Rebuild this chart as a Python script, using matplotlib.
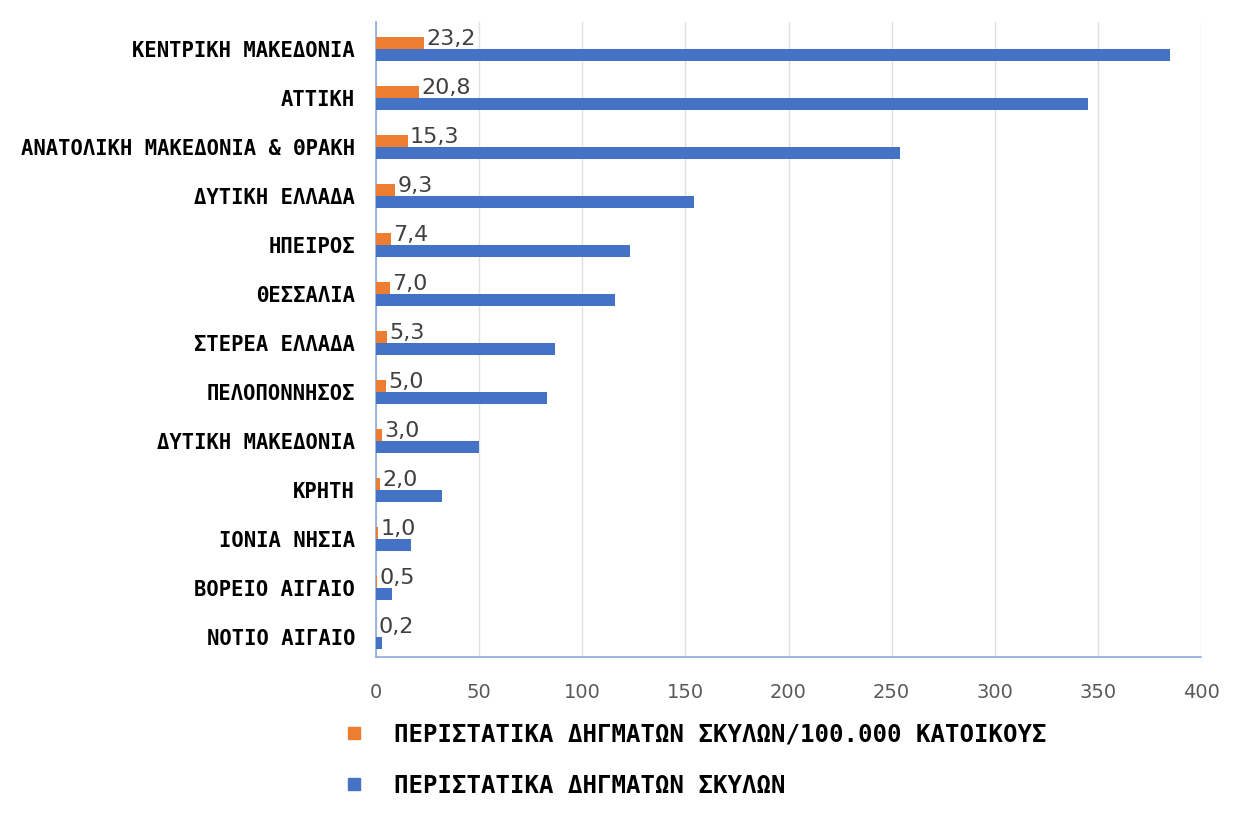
import matplotlib.pyplot as plt
from matplotlib.lines import Line2D
import numpy as np

regions = ['ΚΕΝΤΡΙΚΗ ΜΑΚΕΔΟΝΙΑ', 'ΑΤΤΙΚΗ', 'ΑΝΑΤΟΛΙΚΗ ΜΑΚΕΔΟΝΙΑ & ΘΡΑΚΗ', 'ΔΥΤΙΚΗ ΕΛΛΑΔΑ',
           'ΗΠΕΙΡΟΣ', 'ΘΕΣΣΑΛΙΑ', 'ΣΤΕΡΕΑ ΕΛΛΑΔΑ', 'ΠΕΛΟΠΟΝΝΗΣΟΣ', 'ΔΥΤΙΚΗ ΜΑΚΕΔΟΝΙΑ',
           'ΚΡΗΤΗ', 'ΙΟΝΙΑ ΝΗΣΙΑ', 'ΒΟΡΕΙΟ ΑΙΓΑΙΟ', 'ΝΟΤΙΟ ΑΙΓΑΙΟ']
rate = [23.2, 20.8, 15.3, 9.3, 7.4, 7.0, 5.3, 5.0, 3.0, 2.0, 1.0, 0.5, 0.2]
cases = [385, 345, 254, 154, 123, 116, 87, 83, 50, 32, 17, 8, 3]
xticks = [0, 50, 100, 150, 200, 250, 300, 350, 400]

name_rate = 'ΠΕΡΙΣΤΑΤΙΚΑ ΔΗΓΜΑΤΩΝ ΣΚΥΛΩΝ/100.000 ΚΑΤΟΙΚΟΥΣ'
name_cases = 'ΠΕΡΙΣΤΑΤΙΚΑ ΔΗΓΜΑΤΩΝ ΣΚΥΛΩΝ'

orange = '#ED7D31'
blue = '#4472C4'
mono = ['DejaVu Sans Mono']

fig = plt.figure(figsize=(12.55, 8.21), dpi=100)
ax = fig.add_axes([0.2996, 0.1998, 0.6574, 0.7734])

y = np.arange(len(regions))
h = 0.25
ax.barh(y - h / 2, rate, height=h, color=orange, zorder=3)
ax.barh(y + h / 2, cases, height=h, color=blue, zorder=3)

# ετικέτες τιμών
for yy, v in zip(y, rate):
    ax.annotate(('%.1f' % v).replace('.', ','), (v, yy - h / 2), xytext=(1.5, 3),
                textcoords='offset points', ha='left', va='center',
                fontsize=16, color='#404040')

ax.set_xlim(0, 400)
ax.set_ylim(12.41, -0.55)
ax.set_xticks(xticks)
ax.set_yticks(y)
ax.set_yticklabels(regions, family=mono, fontweight='bold', fontsize=14.8)
ax.tick_params(axis='x', labelsize=14, colors='#595959', length=0, pad=19)
ax.tick_params(axis='y', length=0, pad=15)
ax.grid(axis='x', color='#E0E0E0', linewidth=1.0, zorder=0)
for s in ['top', 'right']:
    ax.spines[s].set_visible(False)
for s in ['left', 'bottom']:
    ax.spines[s].set_color('#8FAADC')
    ax.spines[s].set_linewidth(1.2)

handles = [Line2D([], [], marker='s', linestyle='', color=orange, markersize=9),
           Line2D([], [], marker='s', linestyle='', color=blue, markersize=9)]
fig.legend(handles, [name_rate, name_cases], loc='upper left', bbox_to_anchor=(0.253, 0.135),
           frameon=False, prop={'family': mono, 'weight': 'bold', 'size': 17.3},
           handletextpad=0.7, labelspacing=1.15, borderpad=0)

plt.savefig('out.png')
